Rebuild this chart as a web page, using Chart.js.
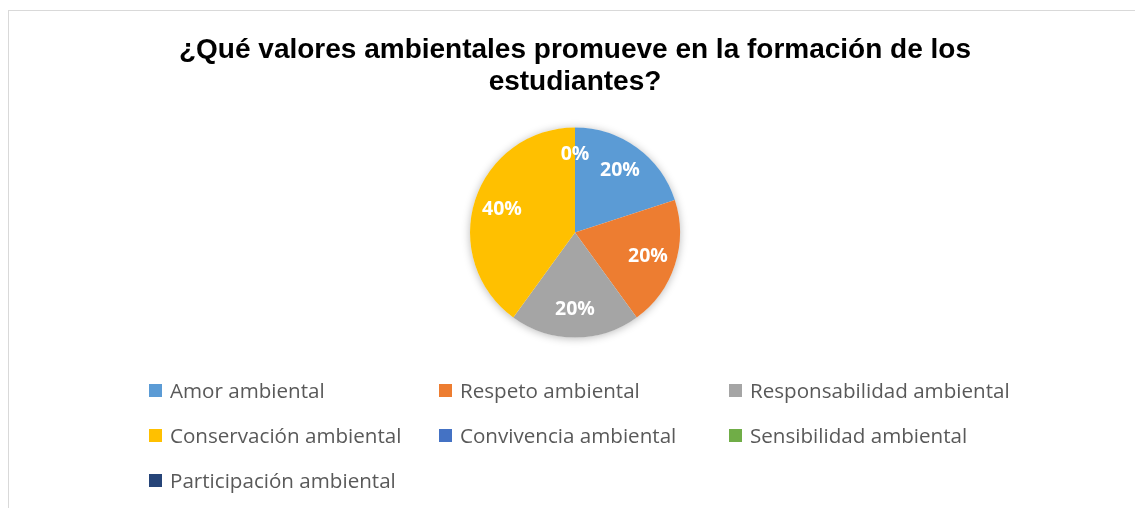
<!DOCTYPE html>
<html>
<head>
<meta charset="utf-8">
<script src="https://cdn.jsdelivr.net/npm/chart.js@4.4.0/dist/chart.umd.min.js"></script>
<style>
  body { margin: 0; background: #fff; }
  #wrap { position: relative; width: 1135px; height: 508px; overflow: hidden; }
  #frame { position: absolute; left: 8px; top: 10px; width: 1140px; height: 520px;
           border-top: 1px solid #d9d9d9; border-left: 1px solid #d9d9d9; box-sizing: border-box; }
  #legend { position: absolute; left: 149px; top: 377px; display: grid;
            grid-template-columns: 290px 290px 290px; grid-auto-rows: 45px;
            font-family: "Open Sans", sans-serif; font-size: 20.6px; color: #595959; }
  .item { display: flex; align-items: center; height: 26px; white-space: nowrap; }
  .box { width: 13px; height: 13px; margin-right: 8px; flex: none; }
</style>
</head>
<body>
<div id="wrap">
  <div id="frame"></div>
  <canvas id="myChart" width="1135" height="508"></canvas>
  <div id="legend"></div>
</div>
<script>
// data
const categories = ['Amor ambiental', 'Respeto ambiental', 'Responsabilidad ambiental',
  'Conservación ambiental', 'Convivencia ambiental', 'Sensibilidad ambiental', 'Participación ambiental'];
const percents = [20, 20, 20, 40, 0, 0, 0];
const colors = ['#5B9BD5', '#ED7D31', '#A5A5A5', '#FFC000', '#4472C4', '#70AD47', '#264478'];
const titleLines = ['¿Qué valores ambientales promueve en la formación de los', 'estudiantes?'];

// soft shadow under the pie
const pieShadow = {
  id: 'pieShadow',
  beforeDatasetsDraw(chart) {
    const arc = chart.getDatasetMeta(0).data[0];
    if (!arc) return;
    const ctx = chart.ctx;
    ctx.save();
    ctx.shadowColor = 'rgba(0,0,0,0.28)';
    ctx.shadowBlur = 9;
    ctx.shadowOffsetY = 1;
    ctx.fillStyle = '#fff';
    ctx.beginPath();
    ctx.arc(arc.x, arc.y, arc.outerRadius, 0, Math.PI * 2);
    ctx.fill();
    ctx.restore();
  }
};

// percent labels inside slices (zero slices share one label spot)
const sliceLabels = {
  id: 'sliceLabels',
  afterDatasetsDraw(chart) {
    const ctx = chart.ctx;
    const meta = chart.getDatasetMeta(0);
    const total = percents.reduce((a, b) => a + b, 0);
    const done = {};
    ctx.save();
    ctx.font = 'bold 19.5px "Open Sans", sans-serif';
    ctx.fillStyle = '#fff';
    ctx.textAlign = 'center';
    ctx.textBaseline = 'middle';
    meta.data.forEach((arc, i) => {
      const p = arc.getProps(['x', 'y', 'startAngle', 'endAngle', 'outerRadius'], true);
      const mid = (p.startAngle + p.endAngle) / 2;
      const r = p.outerRadius * (percents[i] === 0 ? 0.75 : 0.73);
      const txt = Math.round(percents[i] / total * 100) + '%';
      const x = Math.round(p.x + Math.cos(mid) * r), y = Math.round(p.y + Math.sin(mid) * r);
      if (done[x + ',' + y]) return;
      done[x + ',' + y] = true;
      ctx.fillText(txt, x, y);
    });
    ctx.restore();
  }
};

const chart = new Chart(document.getElementById('myChart'), {
  type: 'pie',
  data: {
    labels: categories,
    datasets: [{
      data: percents,
      backgroundColor: colors,
      borderWidth: 0,
      radius: 105
    }]
  },
  options: {
    responsive: false,
    animation: false,
    layout: { padding: { left: 15, right: 0, top: 0, bottom: 146 } },
    plugins: {
      legend: { display: false },
      tooltip: { enabled: false },
      title: {
        display: true,
        text: titleLines,
        color: '#000',
        font: { family: '"Liberation Sans", Arial, sans-serif', size: 28, weight: 'bold', lineHeight: 1.16 },
        padding: { top: 34, bottom: 4 }
      }
    }
  },
  plugins: [pieShadow, sliceLabels]
});

// legend in three columns, like the original
const legend = document.getElementById('legend');
categories.forEach((c, i) => {
  const d = document.createElement('div');
  d.className = 'item';
  d.innerHTML = '<span class="box" style="background:' + colors[i] + '"></span>' + c;
  legend.appendChild(d);
});
</script>
</body>
</html>
